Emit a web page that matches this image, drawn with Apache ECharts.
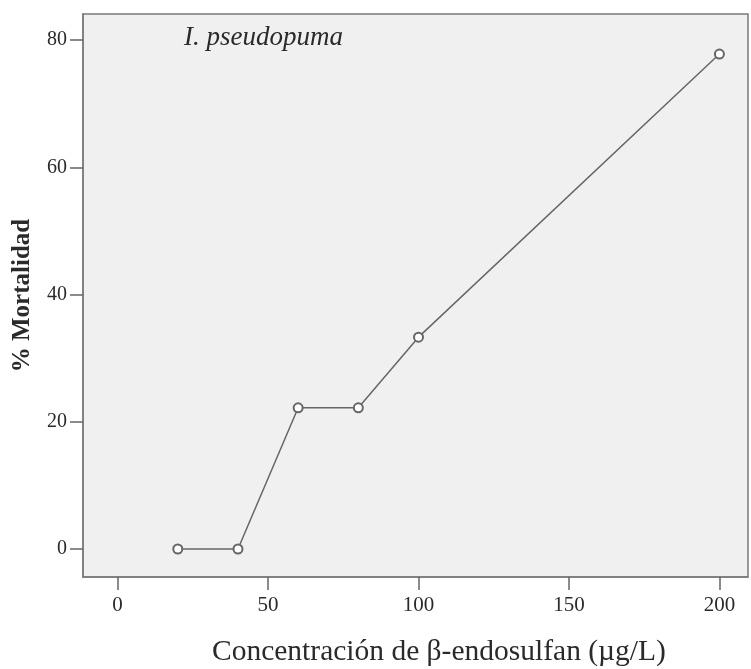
<!DOCTYPE html>
<html>
<head>
<meta charset="utf-8">
<script src="https://cdn.jsdelivr.net/npm/echarts@6/dist/echarts.min.js"></script>
<style>
  html, body { margin: 0; padding: 0; background: #ffffff; }
  #chart { width: 751px; height: 669px; }
</style>
</head>
<body>
<div id="chart"></div>
<script>
// Concentration (µg/L) and mortality (%) for I. pseudopuma
const concentrations = [20, 40, 60, 80, 100, 200];
const mortality = [0, 0, 22.2, 22.2, 33.3, 77.8];
const xTicks = [0, 50, 100, 150, 200];
const yTicks = [0, 20, 40, 60, 80];

const serif = '"Liberation Serif", "Times New Roman", serif';
const frameColor = '#7a7a7a';

const chart = echarts.init(document.getElementById('chart'), null, { renderer: 'canvas' });

chart.setOption({
  animation: false,
  backgroundColor: '#ffffff',
  title: {
    text: 'I. pseudopuma',
    left: 179,
    top: 19,
    textStyle: { fontFamily: serif, fontStyle: 'italic', fontWeight: 'normal', fontSize: 27, color: '#2a2a2a' }
  },
  graphic: [{
    type: 'text',
    left: 212,
    top: 637,
    style: {
      text: 'Concentración de β-endosulfan (µg/L)',
      fontFamily: serif,
      fontSize: 29.5,
      fill: '#2a2a2a'
    }
  }],
  grid: {
    left: 83, right: 3, top: 14, bottom: 92,
    show: true,
    backgroundColor: '#f0f0f0',
    borderColor: frameColor,
    borderWidth: 1.5
  },
  xAxis: {
    type: 'value',
    min: -11.5,
    max: 209.5,
    axisLine: { show: true, onZero: false, lineStyle: { color: frameColor, width: 1.5 } },
    axisTick: { show: true, length: 13, customValues: xTicks, lineStyle: { color: '#666666', width: 1.5 } },
    axisLabel: { customValues: xTicks, margin: 18, fontFamily: serif, fontSize: 21, color: '#2a2a2a' },
    splitLine: { show: false }
  },
  yAxis: {
    type: 'value',
    min: -4.4,
    max: 84.1,
    name: '% Mortalidad',
    nameLocation: 'middle',
    nameGap: 48,
    nameTextStyle: { fontFamily: serif, fontSize: 25, fontWeight: 'bold', color: '#2a2a2a' },
    axisLine: { show: true, onZero: false, lineStyle: { color: frameColor, width: 1.5 } },
    axisTick: { show: true, length: 13, customValues: yTicks, lineStyle: { color: '#666666', width: 1.5 } },
    axisLabel: { customValues: yTicks, margin: 16, fontFamily: serif, fontSize: 20, color: '#2a2a2a' },
    splitLine: { show: false }
  },
  series: [{
    type: 'line',
    data: concentrations.map((c, i) => [c, mortality[i]]),
    symbol: 'emptyCircle',
    symbolSize: 9,
    lineStyle: { color: '#666666', width: 1.5 },
    itemStyle: { color: '#666666', borderColor: '#666666', borderWidth: 1.3 }
  }]
});
</script>
</body>
</html>
